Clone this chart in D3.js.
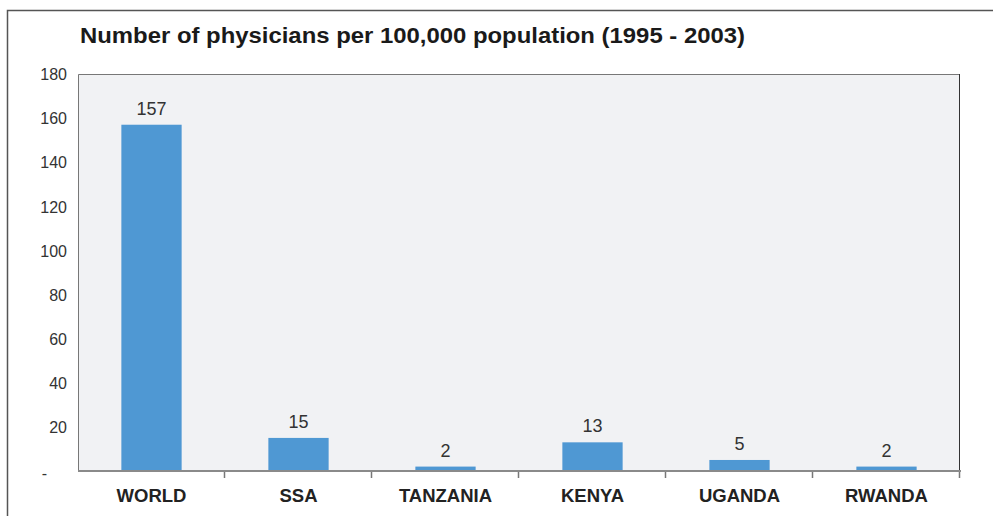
<!DOCTYPE html>
<html><head><meta charset="utf-8">
<script src="https://cdn.jsdelivr.net/npm/d3@7"></script>
<style>body{margin:0;background:#fff;}svg{display:block;font-family:"Liberation Sans",Arial,sans-serif;}</style>
</head><body>
<svg id="c" width="993" height="516"></svg>
<script>
const title = "Number of physicians per 100,000 population (1995 - 2003)";
const categories = ["WORLD","SSA","TANZANIA","KENYA","UGANDA","RWANDA"];
const values = [157,15,2,13,5,2];
const yTicks = [0,20,40,60,80,100,120,140,160,180];
const yTickLabels = ["-","20","40","60","80","100","120","140","160","180"];

const svg = d3.select("#c");
const L=78, T=74, R=960, B=471;
const x = d3.scaleBand().domain(categories).range([L,R]).paddingInner(0.59).paddingOuter(0.295);
const y = d3.scaleLinear().domain([0,180]).range([B,T]);

// outer frame
svg.append("path").attr("d","M7.5,516 V10.5 H993").attr("fill","none").attr("stroke","#555").attr("stroke-width",1.5);

// title
svg.append("text").attr("x",80).attr("y",43).attr("font-size",22.5).attr("font-weight","bold").attr("fill","#1a1a1a")
  .attr("textLength",665).attr("lengthAdjust","spacingAndGlyphs").text(title);

// plot background
svg.append("rect").attr("x",L).attr("y",T).attr("width",R-L).attr("height",B-T).attr("fill","#f1f2f4");
svg.append("path").attr("d",`M${L+0.5},${B} V${T+0.5} H${R-0.5} V${B}`).attr("fill","none").attr("stroke","#777").attr("stroke-width",1);
svg.append("line").attr("x1",R-0.5).attr("x2",R-0.5).attr("y1",T).attr("y2",B).attr("stroke","#333");

// bars
svg.selectAll("rect.bar").data(values).join("rect").attr("class","bar")
  .attr("x",(d,i)=>x(categories[i])).attr("width",x.bandwidth())
  .attr("y",d=>y(d)).attr("height",d=>B-y(d)).attr("fill","#4f98d3");

// value labels
svg.selectAll("text.val").data(values).join("text").attr("class","val")
  .attr("x",(d,i)=>x(categories[i])+x.bandwidth()/2).attr("y",d=>y(d)-10)
  .attr("text-anchor","middle").attr("font-size",18).attr("fill","#333").text(d=>d);

// y axis labels
const yAxis = d3.axisLeft(y).tickValues(yTicks).tickSize(0).tickPadding(11)
  .tickFormat((d,i)=>yTickLabels[i]);
const ga = svg.append("g").attr("transform",`translate(${L},0)`).call(yAxis);
ga.select(".domain").remove();
ga.selectAll("text").attr("font-size",16).attr("fill","#333").attr("font-family","Liberation Sans, Arial, sans-serif")
  .attr("dy","0.36em");
ga.selectAll(".tick").filter(d=>d===0).select("text").attr("dx",-20).attr("dy","0.45em");

// x axis
const step = x.step();
const boundaries = d3.range(categories.length+1).map(i=>L+i*step);
svg.selectAll("line.xt").data(boundaries.slice(1)).join("line").attr("class","xt")
  .attr("x1",d=>d-0.5).attr("x2",d=>d-0.5).attr("y1",B).attr("y2",B+7).attr("stroke","#777").attr("stroke-width",1.5);
svg.append("line").attr("x1",L).attr("x2",R+1).attr("y1",B).attr("y2",B).attr("stroke","#8a8a8a").attr("stroke-width",2);

svg.selectAll("text.cat").data(categories).join("text").attr("class","cat")
  .attr("x",d=>x(d)+x.bandwidth()/2).attr("y",502)
  .attr("text-anchor","middle").attr("font-size",18.5).attr("font-weight","bold").attr("fill","#222").text(d=>d);
</script>
</body></html>
